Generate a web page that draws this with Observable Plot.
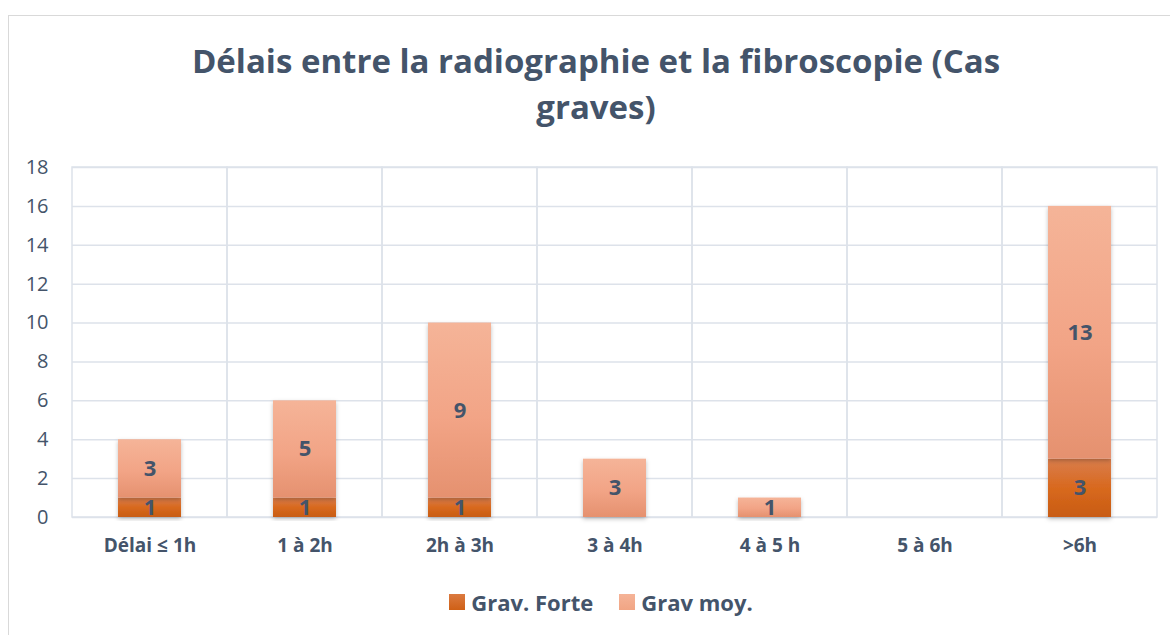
<!DOCTYPE html>
<html>
<head>
<meta charset="utf-8">
<script src="https://cdn.jsdelivr.net/npm/d3@7"></script>
<script src="https://cdn.jsdelivr.net/npm/@observablehq/plot@0.6"></script>
<style>
  body { margin: 0; background: #fff; font-family: "Open Sans", sans-serif; }
  #frame { position: relative; width: 1170px; height: 635px; overflow: hidden; }
  #border { position: absolute; left: 8px; top: 15px; width: 1200px; height: 700px; border: 1.5px solid #d9d9d9; box-sizing: border-box; }
  #title { position: absolute; left: 0; top: 38px; width: 1192px; text-align: center; font-weight: bold; font-size: 33px; line-height: 46px; color: #44546a; }
  #chart { position: absolute; left: 0; top: 140px; }
  #legend { position: absolute; left: 0; top: 586px; width: 1202px; text-align: center; font-weight: bold; font-size: 22px; color: #44546a; }
  #legend span.item { display: inline-flex; align-items: center; margin: 0 13px; }
  #legend span.sw { display: inline-block; width: 16px; height: 16px; margin-right: 6px; }
</style>
</head>
<body>
<div id="frame">
  <div id="border"></div>
  <div id="title">Délais entre la radiographie et la fibroscopie (Cas<br>graves)</div>
  <div id="chart"></div>
  <div id="legend"></div>
</div>
<script>
const categories = ["Délai ≤ 1h", "1 à 2h", "2h à 3h", "3 à 4h", "4 à 5 h", "5 à 6h", ">6h"];
const series = ["Grav. Forte", "Grav moy."];
const gravForte = [1, 1, 1, 0, 0, 0, 3];
const gravMoy = [3, 5, 9, 3, 1, 0, 13];
const yTicks = [0, 2, 4, 6, 8, 10, 12, 14, 16, 18];

const fills = {"Grav. Forte": "url(#gForte)", "Grav moy.": "url(#gMoy)"};
const swatches = {"Grav. Forte": "linear-gradient(#db7a40, #cf6016)", "Grav moy.": "linear-gradient(#f5b397, #f1a584)"};

const data = [];
categories.forEach((c, i) => {
  data.push({cat: c, serie: series[0], value: gravForte[i]});
  data.push({cat: c, serie: series[1], value: gravMoy[i]});
});

const textColor = "#44546a";
const grid = "#dde2ea";

const plot = Plot.plot({
  width: 1170,
  height: 420,
  marginLeft: 72,
  marginRight: 13,
  marginTop: 27,
  marginBottom: 43,
  style: {fontFamily: "'Open Sans', sans-serif", color: textColor, background: "transparent"},
  x: {domain: categories, padding: 0, label: null, axis: null},
  y: {domain: [0, 18], label: null, axis: null},
  color: {type: "identity"},
  marks: [
    Plot.ruleY(yTicks, {y: d => d, stroke: grid, strokeWidth: 1.5}),
    Plot.barY(categories, {x: d => d, y1: 0, y2: 18, fill: "none", stroke: grid, strokeWidth: 1.5}),
    Plot.barY(data, Plot.stackY({x: "cat", y: "value", z: "serie", fill: d => fills[d.serie], insetLeft: 46, insetRight: 46})),
    Plot.text(data, Plot.stackY({filter: d => d.value > 0, x: "cat", y: "value", z: "serie", text: d => String(d.value), fill: textColor, fontWeight: "bold", fontSize: 22})),
    Plot.axisY(yTicks, {tickSize: 0, tickPadding: 24, fontSize: 20, fill: textColor, label: null}),
    Plot.axisX(categories, {tickSize: 0, tickPadding: 21, fontSize: 19, fontWeight: "bold", fill: textColor, label: null})
  ]
});

const svg = d3.select(plot);
const defs = svg.insert("defs", ":first-child");
const gm = defs.append("linearGradient").attr("id", "gMoy").attr("x1", 0).attr("y1", 0).attr("x2", 0).attr("y2", 1);
gm.append("stop").attr("offset", "0%").attr("stop-color", "#f5b498");
gm.append("stop").attr("offset", "55%").attr("stop-color", "#f2a486");
gm.append("stop").attr("offset", "100%").attr("stop-color", "#e5916f");
const gf = defs.append("linearGradient").attr("id", "gForte").attr("x1", 0).attr("y1", 0).attr("x2", 0).attr("y2", 1);
gf.append("stop").attr("offset", "0%").attr("stop-color", "#d97d4c");
gf.append("stop").attr("offset", "50%").attr("stop-color", "#d8691f");
gf.append("stop").attr("offset", "100%").attr("stop-color", "#c85c12");
const filt = defs.append("filter").attr("id", "shadow").attr("x", "-20%").attr("y", "-20%").attr("width", "140%").attr("height", "140%");
filt.append("feDropShadow").attr("dx", 0).attr("dy", 2).attr("stdDeviation", 2).attr("flood-color", "#000").attr("flood-opacity", 0.25);
svg.selectAll("rect").filter(function() { return /url\(#g/.test(this.getAttribute("fill") || ""); }).attr("filter", "url(#shadow)");

document.getElementById("chart").appendChild(plot);

const legend = document.getElementById("legend");
series.forEach(s => {
  const item = document.createElement("span");
  item.className = "item";
  const sw = document.createElement("span");
  sw.className = "sw";
  sw.style.background = swatches[s];
  item.appendChild(sw);
  item.appendChild(document.createTextNode(s));
  legend.appendChild(item);
});
</script>
</body>
</html>
